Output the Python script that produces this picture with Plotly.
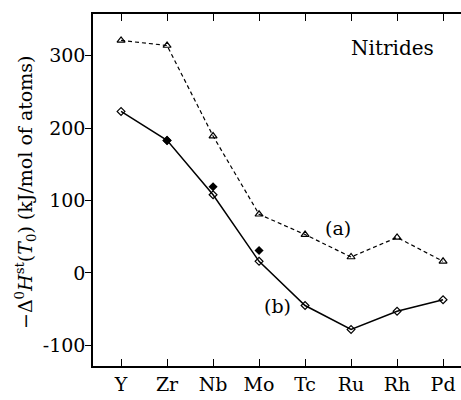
import plotly.graph_objects as go

elements = ["Y", "Zr", "Nb", "Mo", "Tc", "Ru", "Rh", "Pd"]
series_a = [321, 314, 189, 81, 53, 22, 49, 16]
series_b = [223, 183, 108, 16, -45, -78, -53, -37]
filled_elements = ["Zr", "Nb", "Mo"]
filled_values = [183, 119, 31]
y_ticks = [-100, 0, 100, 200, 300]
y_tick_labels = ["-100", "0", "100", "200", "300"]

xpos = list(range(len(elements)))
fxpos = [elements.index(e) for e in filled_elements]

FONT = "DejaVu Serif"
FS = 19

fig = go.Figure()
fig.add_trace(go.Scatter(
    x=xpos, y=series_a, mode="lines+markers",
    line=dict(color="black", width=1.2, dash="4px,3px"),
    marker=dict(symbol="triangle-up-open", size=7, color="black", line=dict(width=1.2)),
    showlegend=False, cliponaxis=False))
fig.add_trace(go.Scatter(
    x=xpos, y=series_b, mode="lines+markers",
    line=dict(color="black", width=1.5),
    marker=dict(symbol="diamond-open", size=6, color="black", line=dict(width=1.2)),
    showlegend=False, cliponaxis=False))
fig.add_trace(go.Scatter(
    x=fxpos, y=filled_values, mode="markers",
    marker=dict(symbol="diamond", size=7, color="black"),
    showlegend=False, cliponaxis=False))

fig.update_layout(
    width=461, height=400,
    margin=dict(l=93, r=0, t=14, b=34),
    plot_bgcolor="white", paper_bgcolor="white",
    font=dict(family=FONT, size=FS, color="black"),
    xaxis=dict(range=[-0.61, 7.39], tickvals=xpos, ticktext=elements,
               showgrid=False, zeroline=False, showline=True, linecolor="black",
               linewidth=1.5, ticks="inside", ticklen=7, tickcolor="black",
               tickwidth=1, mirror="ticks", tickfont=dict(family=FONT, size=FS)),
    yaxis=dict(range=[-128.5, 357.5], tickvals=y_ticks, ticktext=y_tick_labels,
               showgrid=False, zeroline=False, showline=True, linecolor="black",
               linewidth=1.5, ticks="outside", ticklen=6, tickcolor="black",
               tickwidth=1, ticklabelstandoff=-4, tickfont=dict(family=FONT, size=FS)),
    annotations=[
        dict(x=5.91, y=310, text="Nitrides", showarrow=False, xref="x", yref="y",
             font=dict(family=FONT, size=20)),
        dict(x=4.72, y=62, text="(a)", showarrow=False, xref="x", yref="y",
             font=dict(family=FONT, size=FS)),
        dict(x=3.39, y=-45, text="(b)", showarrow=False, xref="x", yref="y",
             font=dict(family=FONT, size=FS)),
        dict(x=-0.185, y=0.494, xref="paper", yref="paper", textangle=-90,
             text="−Δ<sup>0</sup><i>H</i><sup>st</sup>(<i>T</i><sub>0</sub>) (kJ/mol of atoms)",
             showarrow=False, xanchor="center", yanchor="middle",
             font=dict(family=FONT, size=FS)),
    ],
)

fig.write_html("out.html")
